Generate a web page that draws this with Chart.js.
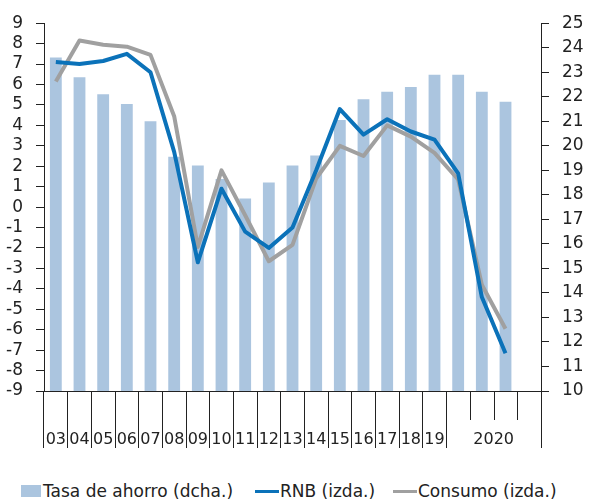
<!DOCTYPE html>
<html>
<head>
<meta charset="utf-8">
<title>Tasa de ahorro, RNB y consumo</title>
<script src="https://cdn.jsdelivr.net/npm/chart.js@4.4.1/dist/chart.umd.min.js"></script>
<style>
	body { margin: 0; background: #fff; }
	#wrap { position: relative; width: 589px; height: 462px; }
	#legend {
		position: absolute; left: 0; top: 480px; width: 589px; height: 22px;
		font-family: "DejaVu Sans", sans-serif; font-size: 17px; color: #222;
		white-space: nowrap;
	}
	#legend span { position: absolute; }
	#legend .txt { top: 0; line-height: 22px; }
	#legend .box { top: 5px; width: 20px; height: 12px; background: #abc5df; }
	#legend .ln { top: 10px; width: 24px; height: 3px; }
</style>
</head>
<body>
<div id="wrap"><canvas id="chart"></canvas></div>
<div id="legend">
	<span class="box" style="left:21px"></span><span class="txt" style="left:43px">Tasa de ahorro (dcha.)</span>
	<span class="ln" style="left:255px;background:#0b72b9"></span><span class="txt" style="left:280px">RNB (izda.)</span>
	<span class="ln" style="left:393px;background:#a0a0a0"></span><span class="txt" style="left:418px">Consumo (izda.)</span>
</div>
<script>
	// 03..19 anuales, luego los cuatro trimestres de 2020
	const categories = ['03', '04', '05', '06', '07', '08', '09', '10', '11', '12', '13', '14', '15', '16', '17', '18', '19', '2020-T1', '2020-T2', '2020-T3', '2020-T4'];
	const tickLabels = ['03', '04', '05', '06', '07', '08', '09', '10', '11', '12', '13', '14', '15', '16', '17', '18', '19', '', '', '', ''];
	const yearLabel = '2020';

	const ahorro = [23.6, 22.8, 22.1, 21.7, 21.0, 19.55, 19.2, 18.65, 17.85, 18.5, 19.2, 19.6, 21.05, 21.9, 22.2, 22.4, 22.9, 22.9, 22.2, 21.8, null];
	const rnb = [7.1, 7.0, 7.15, 7.5, 6.6, 2.7, -2.7, 0.9, -1.2, -2.0, -1.0, 1.8, 4.8, 3.55, 4.3, 3.7, 3.3, 1.65, -4.4, -7.15, null];
	const consumo = [6.15, 8.15, 7.95, 7.85, 7.45, 4.45, -1.95, 1.8, -0.4, -2.65, -1.85, 1.4, 3.0, 2.5, 4.0, 3.45, 2.65, 1.35, -3.8, -5.95, null];

	const INK = '#222';
	const LABEL_PAD = 39;
	const FONT_SIZE = 17;
	const X_FONT_SIZE = 16;
	const isQuarterTick = i => i >= 18 && i <= 20;

	Chart.defaults.font.family = '"DejaVu Sans", sans-serif';
	Chart.defaults.font.size = FONT_SIZE;
	Chart.defaults.color = INK;

	// marcas cortas entre trimestres de 2020 y la etiqueta del año
	const quarterMarks = {
		id: 'quarterMarks',
		afterDraw(chart) {
			const x = chart.scales.x;
			const ctx = chart.ctx;
			const step = x.width / categories.length;
			ctx.save();
			ctx.strokeStyle = INK;
			ctx.lineWidth = 1;
			ctx.beginPath();
			for (let i = 0; i <= categories.length; i++) {
				if (!isQuarterTick(i)) continue;
				const px = Math.round(x.left + i * step) + 0.5;
				ctx.moveTo(px, x.top);
				ctx.lineTo(px, x.top + 29);
			}
			ctx.stroke();
			ctx.fillStyle = INK;
			ctx.font = X_FONT_SIZE + 'px "DejaVu Sans", sans-serif';
			ctx.textAlign = 'center';
			ctx.textBaseline = 'middle';
			ctx.fillText(yearLabel, x.left + 19 * step, x.top + LABEL_PAD + X_FONT_SIZE * 1.2 / 2);
			ctx.restore();
		}
	};

	new Chart('chart', {
		type: 'bar',
		data: {
			labels: categories,
			datasets: [{
				type: 'line',
				label: 'RNB (izda.)',
				data: rnb,
				yAxisID: 'y',
				borderColor: '#0b72b9',
				backgroundColor: '#0b72b9',
				borderWidth: 4,
				pointRadius: 0,
				tension: 0,
				borderJoinStyle: 'round',
				order: 1
			}, {
				type: 'line',
				label: 'Consumo (izda.)',
				data: consumo,
				yAxisID: 'y',
				borderColor: '#a0a0a0',
				backgroundColor: '#a0a0a0',
				borderWidth: 4,
				pointRadius: 0,
				tension: 0,
				borderJoinStyle: 'round',
				order: 2
			}, {
				label: 'Tasa de ahorro (dcha.)',
				data: ahorro,
				yAxisID: 'y1',
				backgroundColor: '#abc5df',
				barPercentage: 0.5,
				categoryPercentage: 1,
				order: 3
			}]
		},
		options: {
			responsive: true,
			maintainAspectRatio: false,
			animation: false,
			layout: { padding: { top: 21, left: 0, right: 0, bottom: 0 } },
			plugins: {
				legend: { display: false },
				tooltip: { enabled: false }
			},
			scales: {
				x: {
					grid: {
						display: true,
						drawOnChartArea: false,
						tickLength: 57,
						tickColor: ctx => isQuarterTick(ctx.index) ? 'rgba(0,0,0,0)' : INK,
						offset: true
					},
					border: { display: true, color: INK, width: 1 },
					ticks: {
						autoSkip: false,
						maxRotation: 0,
						padding: LABEL_PAD - 57,
						font: { size: X_FONT_SIZE },
						callback: (v, i) => tickLabels[i]
					},
					afterFit: s => { s.height = 71; }
				},
				y: {
					position: 'left',
					min: -9,
					max: 9,
					grid: { drawOnChartArea: false, tickLength: 8, tickColor: INK },
					border: { color: INK, width: 1 },
					ticks: { stepSize: 1, padding: 13, autoSkip: false },
					afterFit: s => { s.width = 44; }
				},
				y1: {
					position: 'right',
					min: 10,
					max: 25,
					grid: { drawOnChartArea: false, tickLength: 8, tickColor: INK },
					border: { color: INK, width: 1 },
					ticks: { stepSize: 1, padding: 13, autoSkip: false },
					afterFit: s => { s.width = 48; }
				}
			}
		},
		plugins: [quarterMarks]
	});
</script>
</body>
</html>
